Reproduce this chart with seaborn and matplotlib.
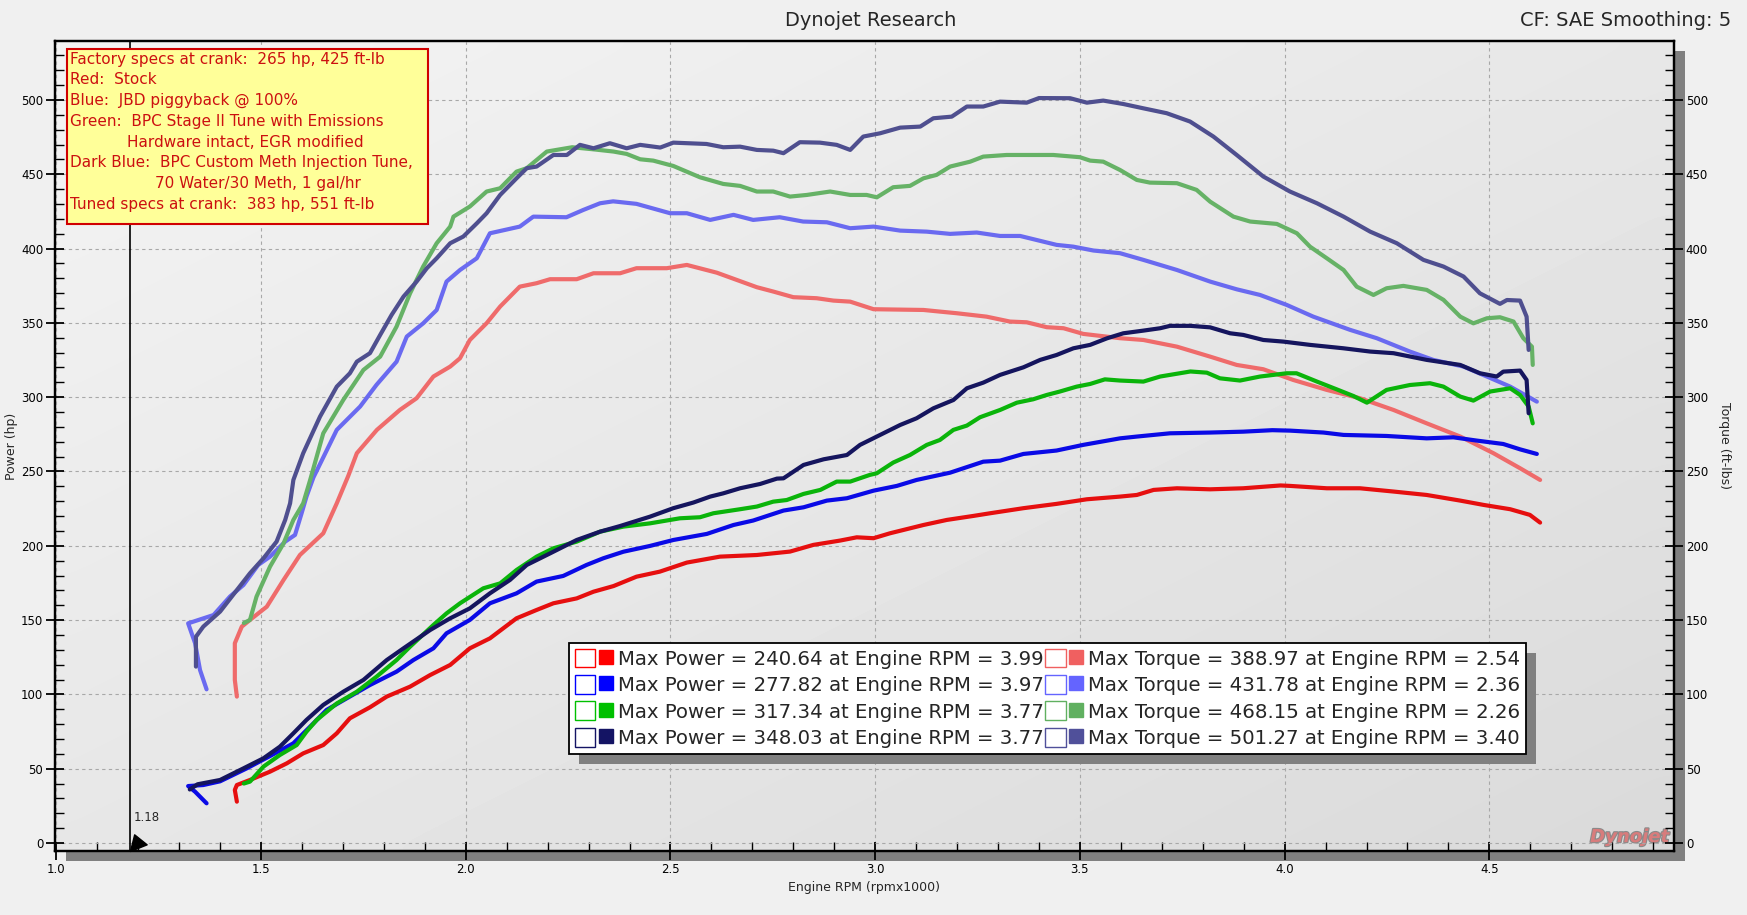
import numpy as np
import pandas as pd
import matplotlib
matplotlib.use("Agg")
import matplotlib.pyplot as plt
import seaborn as sns
from matplotlib.patches import Rectangle, Patch
from matplotlib.lines import Line2D
from matplotlib.path import Path
from matplotlib.legend_handler import HandlerTuple
from matplotlib.ticker import MultipleLocator, FormatStrFormatter
from matplotlib.transforms import IdentityTransform
import matplotlib.patheffects as pe

# ---------------- data ----------------
stock_hp_rpm = [1.441,1.436,1.441,1.473,1.522,1.563,1.603,1.652,1.685,1.717,1.766,1.807,1.864,1.913,1.962,2.010,2.059,2.124,2.173,2.214,2.271,2.312,2.361,2.417,2.474,2.540,2.621,2.711,2.792,2.849,2.914,2.955,2.996,3.036,3.118,3.175,3.240,3.281,3.362,3.443,3.517,3.598,3.639,3.680,3.737,3.818,3.899,3.990,4.013,4.103,4.184,4.266,4.347,4.429,4.486,4.551,4.599,4.624]
stock_hp = [27.8,35.7,39.0,42.4,48.0,53.6,60.3,65.9,73.8,83.9,91.3,98.5,105.2,113.0,119.8,131.0,137.7,151.2,156.8,161.3,164.6,169.1,172.9,179.2,182.6,188.7,192.7,193.8,196.1,200.6,203.5,205.7,205.1,208.4,214.0,217.4,220.1,221.9,225.3,228.2,231.3,233.1,234.2,237.6,238.7,238.0,238.7,240.6,240.3,238.7,238.7,236.5,234.2,230.4,227.5,224.6,220.8,215.6]

jbd_hp_rpm = [1.367,1.339,1.322,1.359,1.400,1.465,1.522,1.579,1.628,1.660,1.709,1.766,1.831,1.872,1.921,1.953,2.010,2.059,2.124,2.173,2.238,2.295,2.336,2.385,2.450,2.507,2.589,2.654,2.702,2.776,2.825,2.882,2.931,2.996,3.053,3.101,3.183,3.264,3.305,3.362,3.443,3.508,3.598,3.639,3.720,3.818,3.899,3.970,4.013,4.095,4.144,4.249,4.347,4.412,4.469,4.534,4.575,4.616]
jbd_hp = [26.7,34.5,38.3,39.0,41.5,50.2,58.5,67.1,80.5,89.5,97.3,106.3,115.3,123.1,131.0,141.1,150.1,161.3,168.0,175.9,179.7,187.1,191.6,196.0,199.9,203.9,208.0,214.0,217.0,223.7,225.9,230.4,232.0,237.1,240.3,244.3,249.2,256.6,257.3,261.8,264.1,267.9,272.3,273.5,275.7,276.2,276.8,277.8,277.5,276.2,274.6,273.9,272.3,273.0,270.8,268.5,264.9,261.8]

bpc_hp_rpm = [1.458,1.473,1.506,1.546,1.587,1.611,1.636,1.685,1.734,1.782,1.831,1.864,1.921,1.953,1.986,2.043,2.084,2.124,2.173,2.214,2.271,2.328,2.385,2.450,2.523,2.572,2.605,2.670,2.711,2.751,2.784,2.825,2.866,2.906,2.939,2.987,3.004,3.044,3.085,3.126,3.158,3.191,3.224,3.256,3.305,3.346,3.386,3.419,3.451,3.492,3.525,3.561,3.598,3.655,3.696,3.770,3.810,3.842,3.891,3.940,4.005,4.029,4.079,4.127,4.168,4.201,4.249,4.306,4.355,4.388,4.429,4.461,4.502,4.551,4.575,4.596,4.606]
bpc_hp = [40.0,41.3,51.4,59.2,65.9,74.9,82.8,93.9,101.8,111.9,123.1,132.1,146.7,154.5,161.3,171.4,174.7,183.7,192.7,198.3,202.8,209.5,212.9,215.1,218.5,219.2,221.9,224.6,226.4,229.7,230.8,234.9,237.6,243.2,243.2,247.7,248.8,256.0,261.1,267.9,271.2,278.0,280.9,286.5,291.4,296.3,298.6,301.5,303.8,307.1,308.9,312.0,311.2,310.5,313.9,317.3,316.5,312.7,311.2,313.9,316.1,316.1,310.5,305.3,300.8,296.3,304.9,308.2,309.4,307.1,300.4,297.7,303.8,306.0,301.5,293.7,282.4]

meth_hp_rpm = [1.326,1.345,1.400,1.457,1.506,1.546,1.579,1.611,1.652,1.701,1.750,1.807,1.848,1.913,1.962,2.010,2.059,2.108,2.149,2.206,2.271,2.328,2.377,2.450,2.507,2.556,2.597,2.629,2.670,2.719,2.760,2.776,2.825,2.874,2.931,2.963,3.012,3.061,3.101,3.142,3.191,3.224,3.264,3.305,3.362,3.403,3.443,3.484,3.525,3.566,3.606,3.655,3.696,3.720,3.770,3.818,3.867,3.899,3.948,3.997,4.062,4.144,4.209,4.266,4.347,4.429,4.477,4.518,4.534,4.575,4.591,4.596]
meth_hp = [36.0,39.5,42.4,50.2,57.0,64.8,73.8,82.8,92.9,101.8,109.7,123.1,131.0,143.3,151.2,157.9,168.0,177.0,187.1,194.9,203.9,209.5,213.3,219.6,225.3,229.1,233.1,235.3,238.7,241.6,245.2,245.4,254.4,258.2,261.1,267.9,274.6,281.3,285.8,292.5,298.1,306.0,309.8,315.0,320.1,325.1,328.4,332.9,335.2,339.6,343.0,344.8,346.4,348.0,348.0,347.0,343.0,341.9,338.5,337.4,335.2,332.9,330.7,329.6,325.1,321.7,316.1,313.9,317.2,317.9,311.6,289.2]

stock_tq_rpm = [1.441,1.436,1.436,1.453,1.473,1.514,1.555,1.595,1.652,1.685,1.713,1.734,1.783,1.839,1.880,1.921,1.962,1.986,2.010,2.051,2.084,2.132,2.173,2.206,2.271,2.312,2.377,2.417,2.491,2.540,2.613,2.662,2.711,2.751,2.800,2.857,2.898,2.939,2.996,3.118,3.158,3.199,3.272,3.329,3.370,3.419,3.460,3.508,3.598,3.655,3.737,3.818,3.883,3.948,4.021,4.103,4.184,4.266,4.347,4.429,4.510,4.575,4.624]
stock_tq = [98.5,109.7,134.4,145.6,150.1,159.0,177.0,193.8,208.4,228.6,247.0,262.3,278.0,291.4,299.3,313.9,320.6,326.2,338.5,349.8,361.0,374.4,376.7,379.4,379.4,383.4,383.4,386.8,386.8,389.0,383.8,378.9,374.0,371.1,367.3,366.6,365.0,364.3,359.2,358.7,357.6,356.5,354.2,350.9,350.4,347.1,346.4,342.6,339.7,338.5,334.0,327.3,321.7,318.8,311.6,304.9,299.3,291.4,282.4,273.5,262.3,252.2,244.3]

jbd_tq_rpm = [1.367,1.351,1.339,1.322,1.384,1.424,1.457,1.493,1.522,1.559,1.583,1.599,1.611,1.628,1.685,1.742,1.782,1.831,1.856,1.896,1.929,1.953,1.986,2.027,2.059,2.132,2.165,2.246,2.287,2.328,2.360,2.417,2.499,2.540,2.597,2.654,2.702,2.767,2.824,2.882,2.939,2.996,3.061,3.126,3.183,3.248,3.305,3.354,3.443,3.484,3.533,3.598,3.655,3.737,3.818,3.883,3.940,4.005,4.070,4.160,4.225,4.306,4.363,4.437,4.494,4.551,4.616]
jbd_tq = [103.4,116.4,134.4,147.8,153.4,165.8,173.6,187.1,192.7,202.8,207.3,221.8,233.1,246.0,278.0,293.7,308.3,323.9,340.8,349.7,358.7,377.8,385.6,393.5,410.3,414.8,421.5,421.1,426.0,430.5,431.8,430.1,423.8,423.8,419.3,422.7,419.3,421.1,418.2,417.7,413.7,414.8,412.1,411.4,409.9,410.8,408.5,408.5,402.5,401.3,398.7,396.9,392.4,385.6,377.8,372.6,368.8,362.1,354.2,345.3,339.7,330.7,325.1,320.6,313.9,307.1,297.0]

bpc_tq_rpm = [1.458,1.473,1.489,1.522,1.555,1.579,1.603,1.620,1.652,1.701,1.750,1.791,1.831,1.864,1.896,1.929,1.962,1.970,2.010,2.051,2.084,2.124,2.149,2.198,2.260,2.312,2.361,2.393,2.426,2.458,2.507,2.572,2.629,2.670,2.711,2.751,2.792,2.833,2.890,2.939,2.979,3.004,3.044,3.085,3.118,3.150,3.183,3.232,3.264,3.321,3.435,3.500,3.525,3.557,3.598,3.639,3.671,3.737,3.785,3.818,3.875,3.916,3.981,4.030,4.062,4.103,4.144,4.176,4.217,4.249,4.290,4.347,4.388,4.429,4.461,4.494,4.526,4.559,4.583,4.604,4.606]
bpc_tq = [148.0,150.1,165.8,186.0,201.6,217.4,228.6,244.3,275.7,298.2,318.3,327.3,347.5,369.9,387.9,403.6,414.8,421.5,428.3,438.4,440.6,451.8,454.1,465.3,468.2,466.8,465.3,463.7,460.1,459.2,455.6,448.0,443.5,442.2,438.4,438.4,435.0,436.1,438.4,436.1,436.1,434.5,441.3,442.2,447.3,449.6,455.2,458.5,461.9,463.0,463.0,461.5,459.2,458.5,452.9,446.2,444.4,444.0,439.5,431.6,421.5,418.2,416.6,410.3,401.3,393.5,385.6,374.4,368.8,373.3,374.9,372.2,365.5,354.2,349.7,353.1,353.8,350.9,339.7,334.0,321.7]

meth_tq_rpm = [1.341,1.341,1.359,1.400,1.441,1.473,1.506,1.538,1.559,1.571,1.579,1.603,1.644,1.685,1.717,1.734,1.766,1.791,1.819,1.848,1.880,1.905,1.929,1.962,1.994,2.027,2.051,2.084,2.124,2.149,2.173,2.214,2.247,2.279,2.312,2.352,2.393,2.426,2.475,2.507,2.588,2.629,2.670,2.711,2.751,2.776,2.816,2.865,2.906,2.939,2.971,3.012,3.061,3.110,3.142,3.187,3.224,3.264,3.305,3.370,3.400,3.476,3.517,3.557,3.606,3.655,3.712,3.769,3.826,3.883,3.948,4.013,4.079,4.144,4.209,4.274,4.339,4.388,4.437,4.477,4.526,4.543,4.575,4.591,4.596]
meth_tq = [118.7,138.8,145.6,155.7,170.2,181.5,191.6,202.8,217.4,228.6,244.3,262.3,286.9,307.1,316.1,323.9,329.6,341.9,355.4,367.7,377.8,386.8,393.5,403.6,408.1,417.0,423.8,436.1,447.3,454.1,455.2,463.0,463.0,469.8,467.5,470.9,467.5,469.8,468.0,471.3,470.4,468.2,468.6,466.4,465.9,464.2,471.6,471.3,469.8,466.4,475.4,477.6,481.4,482.1,487.7,488.8,495.6,495.6,498.9,498.2,501.3,501.2,498.2,499.6,497.3,494.4,491.1,485.5,475.4,463.0,448.5,438.4,430.5,421.5,411.4,403.6,392.4,387.9,381.2,369.9,362.8,365.4,365.0,354.2,331.8]

max_power = [240.64, 277.82, 317.34, 348.03]
max_power_rpm = [3.99, 3.97, 3.77, 3.77]
max_torque = [388.97, 431.78, 468.15, 501.27]
max_torque_rpm = [2.54, 2.36, 2.26, 3.40]

note_lines = [
    ("Factory specs at crank:  265 hp, 425 ft-lb", 0),
    ("Red:  Stock", 0),
    ("Blue:  JBD piggyback @ 100%", 0),
    ("Green:  BPC Stage II Tune with Emissions", 0),
    ("Hardware intact, EGR modified", 1),
    ("Dark Blue:  BPC Custom Meth Injection Tune,", 0),
    ("70 Water/30 Meth, 1 gal/hr", 2),
    ("Tuned specs at crank:  383 hp, 551 ft-lb", 0),
]

power_colors = ["#e60f0f", "#0a0ae6", "#0ab40a", "#15155e"]
torque_colors = ["#ef6b6b", "#6a6af0", "#66b266", "#4f4f8f"]
legend_power_colors = ["#ff0000", "#0000ff", "#00c000", "#141464"]
legend_torque_colors = ["#f06060", "#6464ff", "#60b060", "#50509a"]

# ---------------- figure ----------------
W, H, DPI = 1747, 915, 100
sns.set_theme(style="ticks")
plt.rcParams["font.family"] = ["DejaVu Sans"]

fig = plt.figure(figsize=(W / DPI, H / DPI), dpi=DPI, facecolor="#f0f0f0")
def fx(px): return px / W
def fy(py): return 1 - py / H

L, R, T, B = 55, 1674, 41, 851
ax = fig.add_axes([fx(L), fy(B), fx(R) - fx(L), fy(T) - fy(B)])

# drop shadow of the plot area
fig.patches.append(Rectangle((fx(L + 11), fy(B + 10)), fx(R) - fx(L), fy(T) - fy(B),
                             transform=fig.transFigure, facecolor="#808080",
                             edgecolor="none", zorder=-5))

# gradient background
n = 64
gi, gj = np.mgrid[0:n, 0:n] / (n - 1)
grad = 0.955 - 0.10 * (gi + gj) / 2
ax.imshow(grad, extent=(0, 1, 0, 1), transform=ax.transAxes, cmap="gray",
          vmin=0, vmax=1, aspect="auto", zorder=-10, interpolation="bicubic")
ax.set_autoscale_on(False)

series = [
    (stock_tq_rpm, stock_tq, torque_colors[0]),
    (jbd_tq_rpm, jbd_tq, torque_colors[1]),
    (bpc_tq_rpm, bpc_tq, torque_colors[2]),
    (meth_tq_rpm, meth_tq, torque_colors[3]),
    (stock_hp_rpm, stock_hp, power_colors[0]),
    (jbd_hp_rpm, jbd_hp, power_colors[1]),
    (bpc_hp_rpm, bpc_hp, power_colors[2]),
    (meth_hp_rpm, meth_hp, power_colors[3]),
]
for xs, ys, c in series:
    df = pd.DataFrame({"rpm": xs, "val": ys})
    sns.lineplot(data=df, x="rpm", y="val", ax=ax, color=c, lw=3.0, sort=False,
                 estimator=None, legend=False, zorder=3)

XMIN, XMAX, YMIN, YMAX = 0.9968, 4.951, -5.4, 539.7
ax.set_xlim(XMIN, XMAX)
ax.set_ylim(YMIN, YMAX)

ax2 = ax.twinx()
ax2.set_ylim(YMIN, YMAX)
ax2.set_position(ax.get_position())

for a in (ax, ax2):
    a.yaxis.set_major_locator(MultipleLocator(50))
    a.yaxis.set_minor_locator(MultipleLocator(10))
    a.yaxis.set_major_formatter(FormatStrFormatter("%d"))
    for s in a.spines.values():
        s.set_color("black")
        s.set_linewidth(1.6)
        s.set_visible(True)
    a.tick_params(which="major", direction="inout", length=13, width=1.3,
                  colors="black", labelsize=8.5, pad=2)
    a.tick_params(which="minor", direction="in", length=6.5, width=1.0, colors="black")
ax.xaxis.set_major_locator(MultipleLocator(0.5))
ax.xaxis.set_minor_locator(MultipleLocator(0.1))
ax.xaxis.set_major_formatter(FormatStrFormatter("%.1f"))
ax.tick_params(axis="x", which="major", pad=2)

ax.grid(which="major", color="#a8a8a8", ls=(0, (3, 3)), lw=0.8)
ax.set_axisbelow(False)
for gl in ax.get_xgridlines() + ax.get_ygridlines():
    gl.set_zorder(1)

ax.set_xlabel("Engine RPM (rpmx1000)", fontsize=9)
ax.xaxis.set_label_coords(0.5, -0.037)
ax.set_ylabel("Power (hp)", fontsize=9)
ax.yaxis.set_label_coords(-0.0229, 0.5)
ax2.set_ylabel("Torque (ft-lbs)", fontsize=9, rotation=270, va="center")
ax2.yaxis.set_label_coords(1.0315, 0.5)

# cursor line at 1.18
ax.axvline(1.18, color="black", lw=1.2, zorder=4)
ax.text(1.188, 17, "1.18", fontsize=8.5, ha="left", va="center", zorder=5)
cursor_marker = Path([(0, 0), (0.25, 1.0), (1.0, 0.4), (0, 0)],
                     [Path.MOVETO, Path.LINETO, Path.LINETO, Path.CLOSEPOLY])
ax.plot([1.18], [YMIN], marker=cursor_marker, ms=24, color="black", ls="",
        zorder=5, clip_on=False)

# logo
ax.text(0.997, 0.006, "Dynojet", transform=ax.transAxes, ha="right", va="bottom",
        fontsize=13, fontweight="bold", fontstyle="italic", color="#d87c7c",
        path_effects=[pe.withStroke(linewidth=1.6, foreground="#8a8a8a")], zorder=2)

# titles
fig.text(fx(871), fy(20), "Dynojet Research", ha="center", va="center", fontsize=14)
fig.text(fx(1731), fy(20), "CF: SAE Smoothing: 5", ha="right", va="center", fontsize=14)

# annotation box
fig.patches.append(Rectangle((fx(67), fy(224)), fx(427.5) - fx(67), fy(48.7) - fy(224),
                             transform=fig.transFigure, facecolor="#ffff99",
                             edgecolor="#d00000", lw=1.5, zorder=5))
indent_px = {0: 70, 1: 127, 2: 155}
for i, (line, ind) in enumerate(note_lines):
    fig.text(fx(indent_px[ind]), fy(59.3 + 20.7 * i), line, ha="left", va="center",
             fontsize=11, color="#cc1010", zorder=6)

# legend
labels = [f"Max Power = {p:.2f} at Engine RPM = {r:.2f}" for p, r in zip(max_power, max_power_rpm)] + \
         [f"Max Torque = {t:.2f} at Engine RPM = {r:.2f}" for t, r in zip(max_torque, max_torque_rpm)]
handles = []
for c in legend_power_colors + legend_torque_colors:
    handles.append((Patch(facecolor="white", edgecolor=c, lw=1.0),
                    Line2D([], [], ls="", marker="s", ms=10, mfc=c, mec=c)))
leg = ax2.legend(handles, labels, ncol=2,
                 handler_map={tuple: HandlerTuple(ndivide=None, pad=0)},
                 loc="upper left", bbox_to_anchor=(fx(569), fy(643)),
                 bbox_transform=fig.transFigure, frameon=True, fancybox=False,
                 framealpha=1, facecolor="white", edgecolor="black",
                 fontsize=14.2, handlelength=2.1, handleheight=1.1,
                 handletextpad=0.1, columnspacing=0.05, labelspacing=0.32,
                 borderpad=0.28, borderaxespad=0)
leg.get_frame().set_linewidth(1.3)
leg.set_zorder(10)

fig.canvas.draw()
bb = leg.get_window_extent()
ax2.add_patch(Rectangle((bb.x0 + 10, bb.y0 - 10), bb.width, bb.height,
                        transform=IdentityTransform(), facecolor="#808080",
                        edgecolor="none", zorder=9, clip_on=False))

fig.savefig("out.png", dpi=DPI, facecolor=fig.get_facecolor())
